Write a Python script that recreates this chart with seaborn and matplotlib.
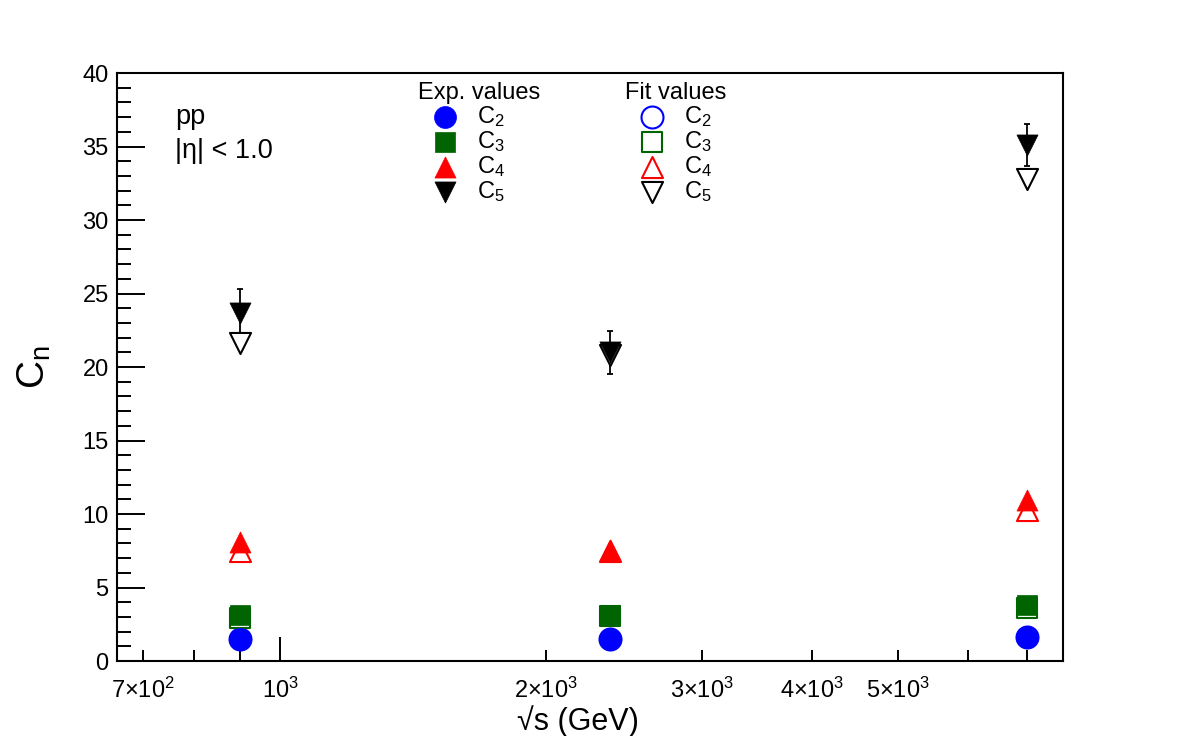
import numpy as np
import pandas as pd
import seaborn as sns
import matplotlib.pyplot as plt
from matplotlib.ticker import FixedLocator, MultipleLocator

# collision energies (GeV)
energy = [900, 2360, 7000]

# experimental values
c2_exp = [1.50, 1.53, 1.63]
c3_exp = [3.16, 3.10, 3.80]
c4_exp = [8.10, 7.58, 10.95]
c5_exp = [23.7, 21.0, 35.1]
c5_err = [1.6, 1.45, 1.4]

# fit values
c2_fit = [1.48, 1.52, 1.60]
c3_fit = [2.95, 3.05, 3.60]
c4_fit = [7.45, 7.45, 10.30]
c5_fit = [21.6, 20.8, 32.8]

labels = ["C$_{2}$", "C$_{3}$", "C$_{4}$", "C$_{5}$"]
colors = ["#0000ff", "#006400", "#ff0000", "#000000"]
markers = ["o", "s", "^", "v"]
sizes = [250, 220, 230, 230]

sns.set_theme(style="white")
plt.rcParams['font.family'] = ['Liberation Sans', 'DejaVu Sans']
plt.rcParams['mathtext.default'] = 'regular'
for k in ["text.color", "axes.labelcolor", "xtick.color", "ytick.color"]:
    plt.rcParams[k] = "black"

fig = plt.figure(figsize=(11.82, 7.36), dpi=100)
ax = fig.add_axes([0.099, 0.1019, 0.8003, 0.7989])

exp_df = pd.DataFrame({"energy": energy, "C2": c2_exp, "C3": c3_exp, "C4": c4_exp, "C5": c5_exp})
fit_df = pd.DataFrame({"energy": energy, "C2": c2_fit, "C3": c3_fit, "C4": c4_fit, "C5": c5_fit})
cols = ["C2", "C3", "C4", "C5"]

# error bars for C5
ax.errorbar(energy, c5_exp, yerr=c5_err, fmt="none", ecolor="black",
            elinewidth=1.3, capsize=2.5, capthick=1.3, zorder=1)

fit_handles = []
exp_handles = []
for i, c in enumerate(cols):
    sns.scatterplot(data=fit_df, x="energy", y=c, ax=ax, marker=markers[i], s=sizes[i],
                    facecolor="white", edgecolor=colors[i], linewidth=1.5, zorder=2)
    fit_handles.append(ax.collections[-1])
for i, c in enumerate(cols):
    sns.scatterplot(data=exp_df, x="energy", y=c, ax=ax, marker=markers[i], s=sizes[i],
                    color=colors[i], edgecolor=colors[i], linewidth=0.5, zorder=3)
    exp_handles.append(ax.collections[-1])

ax.set_xscale("log")
ax.set_xlim(654, 7690)
ax.set_ylim(0, 40)

# x ticks ROOT style
ax.xaxis.set_major_locator(FixedLocator([1000]))
ax.set_xticks([1000], labels=[r"$10^{3}$"])
minor_pos = [700, 800, 900, 2000, 3000, 4000, 5000, 6000, 7000]
minor_lab = [r"$7{\times}10^{2}$", "", "", r"$2{\times}10^{3}$", r"$3{\times}10^{3}$",
             r"$4{\times}10^{3}$", r"$5{\times}10^{3}$", "", ""]
ax.set_xticks(minor_pos, labels=minor_lab, minor=True)
ax.tick_params(axis="x", which="major", direction="in", length=17, width=1.4,
               labelsize=17, pad=12, bottom=True, top=False)
ax.tick_params(axis="x", which="minor", direction="in", length=8, width=1.4,
               labelsize=17, pad=12, bottom=True, top=False)

ax.yaxis.set_major_locator(MultipleLocator(5))
ax.yaxis.set_minor_locator(MultipleLocator(1))
ax.tick_params(axis="y", which="major", direction="in", length=20, width=1.4,
               labelsize=17, pad=6, left=True, right=False)
ax.tick_params(axis="y", which="minor", direction="in", length=10, width=1.4,
               left=True, right=False)

for s in ax.spines.values():
    s.set_color("black")
    s.set_linewidth(1.5)

ax.set_xlabel("√s (GeV)", fontsize=22, labelpad=-2)
ax.xaxis.set_label_coords(0.487, -0.075)
ax.set_ylabel("C$_{n}$", fontsize=28)
ax.yaxis.set_label_coords(-0.068, 0.5)

ax.text(0.061, 0.925, "pp", transform=ax.transAxes, fontsize=19.5, va="center")
ax.text(0.061, 0.868, "|η| < 1.0", transform=ax.transAxes, fontsize=19.5, va="center")

leg_kw = dict(loc="upper left", frameon=False, fontsize=17, title_fontsize=17,
              labelspacing=0.0, handletextpad=0.2, borderaxespad=0.2,
              handlelength=2.3, alignment="left", borderpad=0.2)
leg1 = ax.legend(exp_handles, labels, title="Exp. values",
                 bbox_to_anchor=(0.308, 1.0), **leg_kw)
ax.add_artist(leg1)
leg2 = ax.legend(fit_handles, labels, title="Fit values",
                 bbox_to_anchor=(0.527, 1.0), **leg_kw)

fig.savefig("out.png", dpi=100)
